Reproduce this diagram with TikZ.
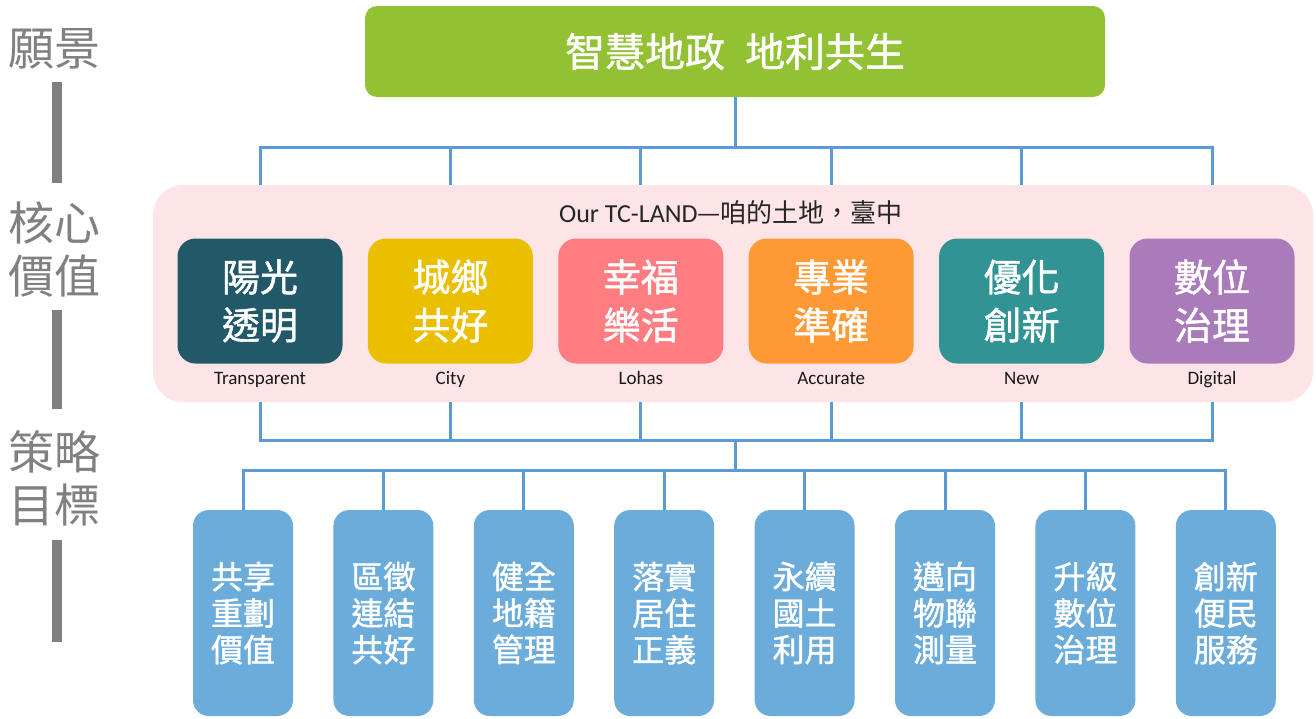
\documentclass[tikz,border=0pt]{standalone}
\usepackage{fontspec}
\setmainfont{Carlito}
\newfontfamily\cjk{Noto Sans CJK TC}
\newfontfamily\cjkw{Noto Sans CJK TC}[FakeBold=1.2]

\definecolor{visiongreen}{RGB}{146,193,52}
\definecolor{corepink}{RGB}{253,228,230}
\definecolor{linkblue}{RGB}{91,155,213}
\definecolor{goalblue}{RGB}{107,172,218}
\definecolor{levelgray}{RGB}{128,128,128}
\definecolor{valdark}{RGB}{34,89,104}
\definecolor{valyellow}{RGB}{233,191,0}
\definecolor{valrose}{RGB}{255,124,128}
\definecolor{valorange}{RGB}{255,153,51}
\definecolor{valteal}{RGB}{49,147,147}
\definecolor{valpurple}{RGB}{169,123,186}

\tikzset{
  link/.style={draw=linkblue, line width=3pt},
  levelbar/.style={draw=levelgray, line width=10pt},
  levellabel/.style={text=levelgray, align=center, inner sep=0pt, font=\cjk\fontsize{46}{53}\selectfont},
  valuebox/.style={rounded corners=18pt, minimum width=165pt, minimum height=125pt, inner sep=0pt,
    text=white, align=center, font=\cjkw\fontsize{38}{48}\selectfont},
  goalbox/.style={fill=goalblue, rounded corners=16pt, minimum width=100pt, minimum height=206pt, inner sep=0pt,
    text=white, align=center, font=\cjkw\fontsize{32}{36.5}\selectfont},
  enlabel/.style={anchor=base, inner sep=0pt, text=black!90, font=\fontsize{19}{22}\selectfont},
}

\begin{document}
\begin{tikzpicture}[x=1pt,y=1pt,yscale=-1]
  \useasboundingbox (0,0) rectangle (1316,718);

  %Level labels and bars
  \node[levellabel] (vislabel) at (55,49) {願景};
  \node[levellabel] (vallabel) at (55,249) {核心\\價值};
  \node[levellabel] (goallabel) at (55,478) {策略\\目標};
  \draw[levelbar] (57,82) -- (57,183);
  \draw[levelbar] (57,310) -- (57,409);
  \draw[levelbar] (57,540) -- (57,642);

  %Vision
  \node[fill=visiongreen, rounded corners=12pt, minimum width=740pt, minimum height=91pt,
    text=white, font=\cjkw\fontsize{40}{48}\selectfont] (vision) at (735,51.5) {智慧地政\hspace{0.5em}地利共生};

  %Core values panel
  \node[fill=corepink, rounded corners=30pt, minimum width=1160pt, minimum height=217pt] (core) at (733,293.5) {};
  \node[anchor=base, text=black!85, font=\fontsize{26}{30}\selectfont] (motto) at (731,222)
    {Our TC-LAND{\cjk —咱的土地，臺中}};

  \coordinate (enbase) at (0,384);
  \foreach \i/\c/\t/\e in {1/valdark/陽光\\透明/Transparent, 2/valyellow/城鄉\\共好/City,
      3/valrose/幸福\\樂活/Lohas, 4/valorange/專業\\準確/Accurate,
      5/valteal/優化\\創新/New, 6/valpurple/數位\\治理/Digital}{
    \node[valuebox, fill=\c] (v\i) at ({260+190.4*(\i-1)},301) {\t};
    \node[enlabel] (e\i) at (v\i |- enbase) {\e};
  }

  %Strategic goals
  \foreach \i/\t in {1/共享\\重劃\\價值, 2/區徵\\連結\\共好, 3/健全\\地籍\\管理, 4/落實\\居住\\正義,
      5/永續\\國土\\利用, 6/邁向\\物聯\\測量, 7/升級\\數位\\治理, 8/創新\\便民\\服務}{
    \node[goalbox] (g\i) at ({243+140.4*(\i-1)},613) {\t};
  }

  %Connectors
  \coordinate (topbus) at (735,147);
  \coordinate (midbus) at (735,440);
  \coordinate (lowbus) at (735,470);
  \draw[link] (vision.south) -- (topbus);
  \draw[link] (core.north -| v1) |- (topbus) -| (core.north -| v6);
  \foreach \i in {2,...,5}
    \draw[link] (topbus -| v\i) -- (core.north -| v\i);
  \draw[link] (core.south -| v1) |- (midbus) -| (core.south -| v6);
  \foreach \i in {2,...,5}
    \draw[link] (core.south -| v\i) -- (midbus -| v\i);
  \draw[link] (midbus) -- (lowbus);
  \draw[link] (g1.north) |- (lowbus) -| (g8.north);
  \foreach \i in {2,...,7}
    \draw[link] (lowbus -| g\i) -- (g\i.north);
\end{tikzpicture}
\end{document}
